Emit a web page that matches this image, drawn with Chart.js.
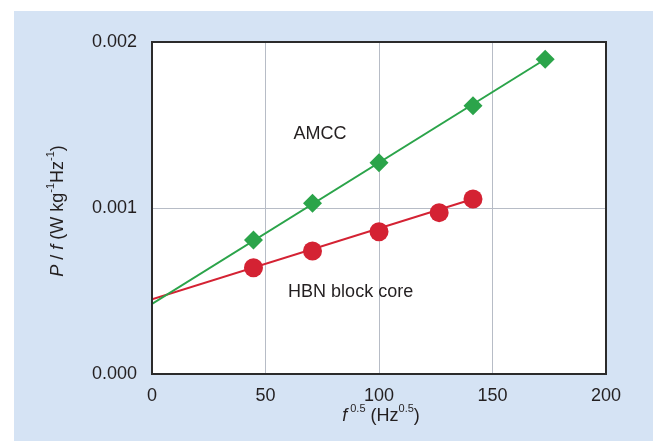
<!DOCTYPE html>
<html>
<head>
<meta charset="utf-8">
<script src="https://cdn.jsdelivr.net/npm/chart.js@4/dist/chart.umd.min.js"></script>
<style>
  html, body { margin: 0; padding: 0; background: #ffffff; }
  body { width: 659px; height: 441px; position: relative; overflow: hidden; }
  #panel { position: absolute; left: 14px; top: 11px; width: 639px; height: 430px; background: #d5e3f4; }
  #chart { display: block; }
</style>
</head>
<body>
<div id="panel"><canvas id="chart" width="639" height="430"></canvas></div>
<script>
// Square root of frequency, Hz^0.5
const amccX = [44.7, 70.7, 100, 141.4, 173.2];
const amccY = [0.000807, 0.001028, 0.001273, 0.001616, 0.001896];
const hbnX = [44.7, 70.7, 100, 126.5, 141.4];
const hbnY = [0.00064, 0.000741, 0.000857, 0.000972, 0.001054];

// Straight-line fits, extrapolated back to f = 0
const amccFitX = [0, 173.2];
const amccFitY = [0.000422, 0.001896];
const hbnFitX = [0, 141.4];
const hbnFitY = [0.00045, 0.001054];

const xTicks = [0, 50, 100, 150, 200];
const yTicks = [0.000, 0.001, 0.002];

const GREEN = '#2ba44a';
const RED = '#d42233';
const INK = '#231f20';
const FONT = '"Liberation Sans", Arial, Helvetica, sans-serif';

const pts = (xs, ys) => xs.map((x, i) => ({ x, y: ys[i] }));

// Draw a line of mixed text runs (italic / superscript) centred at (cx, cy)
function drawRuns(ctx, runs, cx, cy, size) {
  const supSize = Math.round(size * 0.62);
  const fontOf = r => (r.italic ? 'italic ' : '') + (r.sup ? supSize : size) + 'px ' + FONT;
  let total = 0;
  runs.forEach(r => { ctx.font = fontOf(r); total += ctx.measureText(r.t).width; });
  let x = cx - total / 2;
  ctx.textBaseline = 'middle';
  ctx.textAlign = 'left';
  ctx.fillStyle = INK;
  runs.forEach(r => {
    ctx.font = fontOf(r);
    ctx.fillText(r.t, x, r.sup ? cy - size * 0.38 : cy);
    x += ctx.measureText(r.t).width;
  });
}

const textPlugin = {
  id: 'axisTitlesAndNotes',
  afterDraw(chart) {
    const { ctx, chartArea, scales } = chart;
    // y-axis title
    ctx.save();
    ctx.translate(44, (chartArea.top + chartArea.bottom) / 2 + 3);
    ctx.rotate(-Math.PI / 2);
    drawRuns(ctx, [
      { t: 'P', italic: true }, { t: ' / ' }, { t: 'f', italic: true },
      { t: ' (W kg' }, { t: '-1', sup: true }, { t: 'Hz' }, { t: '-1', sup: true }, { t: ')' }
    ], 0, 0, 18);
    ctx.restore();
    // x-axis title
    ctx.save();
    drawRuns(ctx, [
      { t: 'f', italic: true }, { t: ' 0.5', sup: true }, { t: ' (Hz' }, { t: '0.5', sup: true }, { t: ')' }
    ], (chartArea.left + chartArea.right) / 2 + 2, chartArea.bottom + 42, 18);
    ctx.restore();
    // series notes
    ctx.save();
    ctx.font = '18px ' + FONT;
    ctx.fillStyle = INK;
    ctx.textAlign = 'center';
    ctx.textBaseline = 'middle';
    ctx.fillText('AMCC', scales.x.getPixelForValue(74), scales.y.getPixelForValue(0.001446));
    ctx.fillText('HBN block core', scales.x.getPixelForValue(87.5), scales.y.getPixelForValue(0.000496));
    ctx.restore();
  }
};

new Chart(document.getElementById('chart'), {
  type: 'scatter',
  data: {
    datasets: [
      { label: 'AMCC fit', data: pts(amccFitX, amccFitY), showLine: true, borderColor: GREEN,
        borderWidth: 2, pointRadius: 0, order: 3 },
      { label: 'HBN fit', data: pts(hbnFitX, hbnFitY), showLine: true, borderColor: RED,
        borderWidth: 2, pointRadius: 0, order: 3 },
      { label: 'AMCC', data: pts(amccX, amccY), pointStyle: 'rectRot', pointRadius: 9.5,
        backgroundColor: GREEN, borderColor: GREEN, borderWidth: 0, order: 1 },
      { label: 'HBN block core', data: pts(hbnX, hbnY), pointStyle: 'circle', pointRadius: 9.5,
        backgroundColor: RED, borderColor: RED, borderWidth: 0, order: 1 }
    ]
  },
  options: {
    responsive: false,
    animation: false,
    events: [],
    layout: { padding: { left: 0, right: 47, top: 31, bottom: 0 } },
    plugins: { legend: { display: false }, tooltip: { enabled: false } },
    scales: {
      x: {
        type: 'linear', min: 0, max: 200,
        afterBuildTicks: s => { s.ticks = xTicks.map(v => ({ value: v })); },
        afterFit: s => { s.height = 67; },
        grid: { color: '#b7bcc6', lineWidth: 1, drawTicks: false },
        border: { color: '#2b2b2b', width: 2 },
        ticks: { padding: 11, color: INK, font: { family: FONT, size: 18 }, callback: v => String(v) }
      },
      y: {
        type: 'linear', min: 0, max: 0.002,
        afterBuildTicks: s => { s.ticks = yTicks.map(v => ({ value: v })); },
        afterFit: s => { s.width = 138; },
        grid: { color: '#b7bcc6', lineWidth: 1, drawTicks: false },
        border: { color: '#2b2b2b', width: 2 },
        ticks: { padding: 15, color: INK, font: { family: FONT, size: 18 }, callback: v => v.toFixed(3) }
      }
    }
  },
  plugins: [
    {
      id: 'frame',
      afterDatasetsDraw(chart) {
        const { ctx, chartArea: a } = chart;
        ctx.save();
        ctx.strokeStyle = '#2b2b2b';
        ctx.lineWidth = 2;
        ctx.strokeRect(a.left, a.top, a.right - a.left, a.bottom - a.top);
        ctx.restore();
      },
      beforeDraw(chart) {
        const { ctx, chartArea: a } = chart;
        ctx.save();
        ctx.fillStyle = '#ffffff';
        ctx.fillRect(a.left, a.top, a.right - a.left, a.bottom - a.top);
        ctx.restore();
      }
    },
    textPlugin
  ]
});
</script>
</body>
</html>
